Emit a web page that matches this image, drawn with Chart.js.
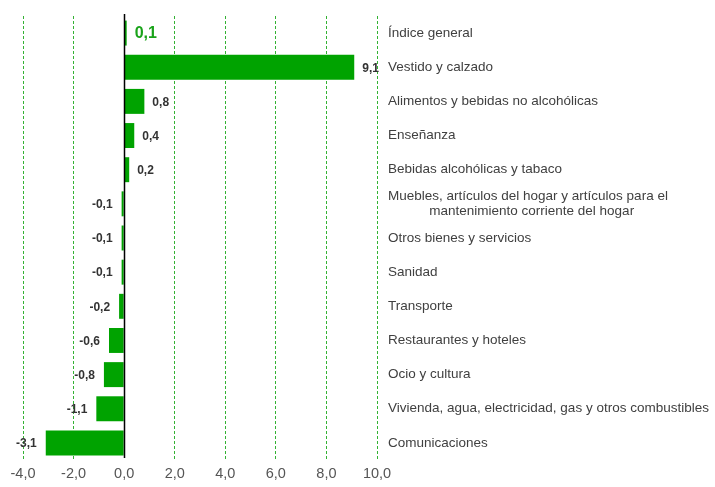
<!DOCTYPE html>
<html lang="es">
<head>
<meta charset="UTF-8">
<title>Variación por grupos</title>
<script src="https://cdn.jsdelivr.net/npm/chart.js"></script>
<style>
    html, body { margin: 0; padding: 0; background: #fff; }
    #wrap { width: 715px; height: 487px; }
</style>
</head>
<body>
<div id="wrap"><canvas id="chart"></canvas></div>
<script>
// categories, top to bottom
const categories = [
    'Índice general',
    'Vestido y calzado',
    'Alimentos y bebidas no alcohólicas',
    'Enseñanza',
    'Bebidas alcohólicas y tabaco',
    ['Muebles, artículos del hogar y artículos para el', '           mantenimiento corriente del hogar'],
    'Otros bienes y servicios',
    'Sanidad',
    'Transporte',
    'Restaurantes y hoteles',
    'Ocio y cultura',
    'Vivienda, agua, electricidad, gas y otros combustibles',
    'Comunicaciones'
];
const values = [0.1, 9.1, 0.8, 0.4, 0.2, -0.1, -0.1, -0.1, -0.2, -0.6, -0.8, -1.1, -3.1];
const xTicks = [-4, -2, 0, 2, 4, 6, 8, 10];

const fmt = v => v.toFixed(1).replace('.', ',');

// zero line + value labels
const extras = {
    id: 'extras',
    afterDatasetsDraw(chart) {
        const ctx = chart.ctx;
        const x = chart.scales.x;
        const area = chart.chartArea;
        const x0 = Math.round(x.getPixelForValue(0)) + 0.5;
        ctx.save();
        ctx.strokeStyle = '#000';
        ctx.lineWidth = 1.5;
        ctx.beginPath();
        ctx.moveTo(x0, area.top - 2);
        ctx.lineTo(x0, area.bottom - 2);
        ctx.stroke();

        const meta = chart.getDatasetMeta(0);
        meta.data.forEach((bar, i) => {
            const v = values[i];
            const first = i === 0;
            ctx.font = first ? 'bold 16px "Liberation Sans", Arial, sans-serif'
                             : 'bold 12px "Liberation Sans", Arial, sans-serif';
            ctx.fillStyle = first ? '#1aa31a' : '#333333';
            ctx.textBaseline = 'middle';
            if (v >= 0) {
                ctx.textAlign = 'left';
                ctx.fillText(fmt(v), bar.x + 8, bar.y + 1);
            } else {
                ctx.textAlign = 'right';
                ctx.fillText(fmt(v), bar.x - 9, bar.y + 1);
            }
        });
        ctx.restore();
    }
};

new Chart(document.getElementById('chart'), {
    type: 'bar',
    data: {
        labels: categories,
        datasets: [{
            data: values,
            backgroundColor: '#00a300',
            borderWidth: 0,
            barPercentage: 0.85,
            categoryPercentage: 0.86
        }]
    },
    options: {
        indexAxis: 'y',
        responsive: true,
        maintainAspectRatio: false,
        animation: false,
        layout: { padding: { top: 16, left: 23, right: 0, bottom: 0 } },
        plugins: {
            legend: { display: false },
            tooltip: { enabled: false }
        },
        scales: {
            x: {
                min: -4,
                max: 10,
                afterBuildTicks(scale) {
                    scale.ticks = xTicks.map(v => ({ value: v }));
                },
                afterFit(scale) {
                    scale.height = 27;
                    scale.paddingLeft = 0;
                    scale.paddingRight = 0;
                },
                border: { display: false, dash: [3, 2] },
                grid: {
                    color: ctx => ctx.tick && ctx.tick.value === 0 ? 'rgba(0,0,0,0)' : '#33b233',
                    lineWidth: 1,
                    drawTicks: false
                },
                ticks: {
                    padding: 5,
                    color: '#555555',
                    font: { family: '"Liberation Sans", Arial, sans-serif', size: 14.5 },
                    callback: v => fmt(v)
                }
            },
            y: {
                position: 'right',
                grid: { display: false, drawTicks: false },
                border: { display: false },
                afterFit(scale) {
                    scale.width = 338;
                    scale.paddingTop = 0;
                    scale.paddingBottom = 0;
                },
                ticks: {
                    padding: 11,
                    color: '#404040',
                    font: { family: '"Liberation Sans", Arial, sans-serif', size: 13.5, lineHeight: 1.1 }
                }
            }
        }
    },
    plugins: [extras]
});
</script>
</body>
</html>
